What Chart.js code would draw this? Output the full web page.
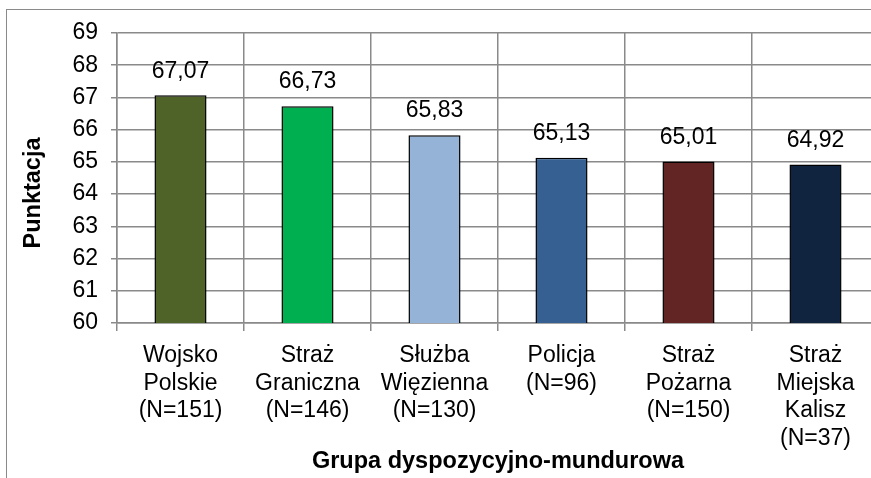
<!DOCTYPE html>
<html>
<head>
<meta charset="utf-8">
<script src="https://cdn.jsdelivr.net/npm/chart.js@4/dist/chart.umd.min.js"></script>
<style>
  body { margin: 0; overflow: hidden; background: #fff; }
  #frame { position: absolute; left: 6px; top: 9px; width: 1000px; height: 1000px; border: 1px solid #8a8a8a; }
  #myChart { position: absolute; left: 0; top: 0; }
</style>
</head>
<body>
<div id="frame"></div>
<canvas id="myChart" width="900" height="478"></canvas>
<script>
const groups = [
  ["Wojsko", "Polskie", "(N=151)"],
  ["Straż", "Graniczna", "(N=146)"],
  ["Służba", "Więzienna", "(N=130)"],
  ["Policja", "(N=96)"],
  ["Straż", "Pożarna", "(N=150)"],
  ["Straż", "Miejska", "Kalisz", "(N=37)"]
];
const scores = [67.07, 66.73, 65.83, 65.13, 65.01, 64.92];
const barColors = ["#4f6228", "#00b050", "#95b3d7", "#376092", "#632523", "#11243f"];
const yTicks = [60, 61, 62, 63, 64, 65, 66, 67, 68, 69];

const fontFamily = "'Liberation Sans', Arial, sans-serif";
const gridColor = "#8a8a8a";

// value labels above bars (decimal comma) and the y title, which sits a bit
// below the middle of the axis in the original
const extraText = {
  id: "extraText",
  afterDatasetsDraw(chart) {
    const ctx = chart.ctx;
    const meta = chart.getDatasetMeta(0);
    ctx.save();
    ctx.font = "23px " + fontFamily;
    ctx.fillStyle = "#000";
    ctx.textAlign = "center";
    ctx.textBaseline = "middle";
    meta.data.forEach((bar, i) => {
      ctx.fillText(scores[i].toFixed(2).replace(".", ","), bar.x, bar.y - 24);
    });
    ctx.translate(34, 193);
    ctx.rotate(-Math.PI / 2);
    ctx.font = "bold 23.5px " + fontFamily;
    ctx.fillText("Punktacja", 0, 0);
    ctx.restore();
  }
};

const data = {
  labels: groups,
  datasets: [
    {
      data: scores,
      backgroundColor: barColors,
      borderColor: "#000",
      borderWidth: 1.5,
      borderSkipped: false,
      barPercentage: 0.41,
      categoryPercentage: 1
    }
  ]
};

const config = {
  type: "bar",
  data: data,
  options: {
    responsive: false,
    animation: false,
    layout: { padding: { top: 33, right: 21, left: 0, bottom: 0 } },
    plugins: { legend: { display: false }, tooltip: { enabled: false } },
    scales: {
      x: {
        grid: { color: gridColor, lineWidth: 1.5, tickLength: 8, offset: true },
        border: { color: gridColor, width: 1.5 },
        ticks: {
          color: "#000",
          font: { family: fontFamily, size: 23, lineHeight: 1.2 },
          maxRotation: 0,
          autoSkip: false,
          padding: 11
        },
        title: {
          display: true,
          text: "Grupa dyspozycyjno-mundurowa",
          color: "#000",
          font: { family: fontFamily, size: 23.5, weight: "bold", lineHeight: 1.2 },
          padding: { top: 0, bottom: 2 }
        },
        afterFit(scale) { scale.height = 155; }
      },
      y: {
        min: 60,
        max: 69,
        afterBuildTicks(scale) { scale.ticks = yTicks.map(v => ({ value: v })); },
        grid: { color: gridColor, lineWidth: 1.5, tickLength: 6 },
        border: { color: gridColor, width: 1.5 },
        ticks: {
          color: "#000",
          font: { family: fontFamily, size: 23 },
          padding: 13
        },
        afterFit(scale) { scale.width = 117; }
      }
    }
  },
  plugins: [extraText]
};

const myChart = new Chart(document.getElementById("myChart"), config);
</script>
</body>
</html>
